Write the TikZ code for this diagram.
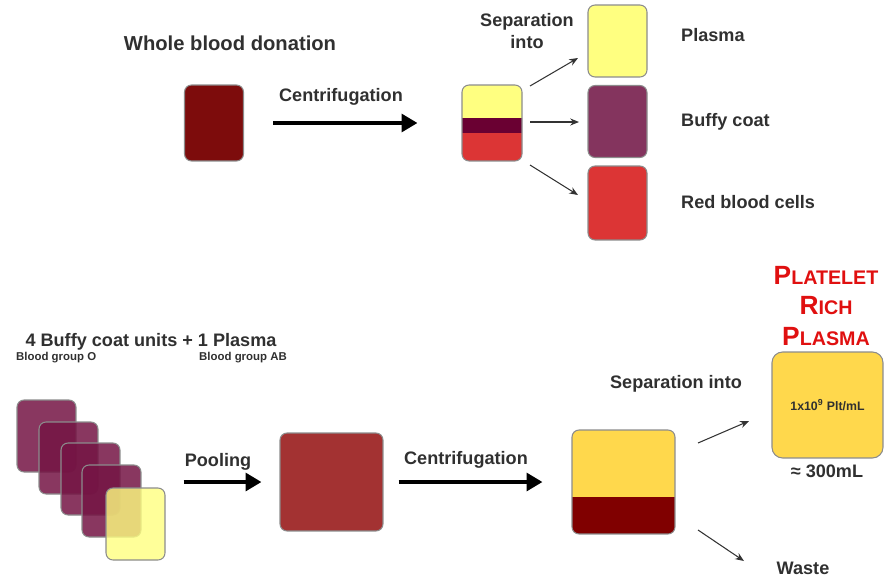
\documentclass[tikz,border=0pt]{standalone}
\usepackage{fontspec}
\setmainfont{Liberation Sans}
\usetikzlibrary{arrows.meta}

\definecolor{wholered}{HTML}{7D0C0C}
\definecolor{plasmayel}{HTML}{FFFF80}
\definecolor{buffypur}{HTML}{84345E}
\definecolor{bandpur}{HTML}{6A0032}
\definecolor{cellred}{HTML}{DC3535}
\definecolor{stackpur}{HTML}{741444}
\definecolor{poolred}{HTML}{A33232}
\definecolor{prpgold}{HTML}{FFD84C}
\definecolor{wastered}{HTML}{800000}
\definecolor{titlered}{HTML}{E01010}
\definecolor{txt}{HTML}{303030}

\tikzset{
  bag/.style={draw=black!45, line width=0.6pt, rounded corners=4pt, inner sep=0pt},
  unit/.style={bag, minimum width=1.18cm, minimum height=1.44cm},
  lbl/.style={font=\fontsize{10.3}{12.5}\selectfont\bfseries, text=txt},
  small/.style={font=\fontsize{6.5}{8}\selectfont\bfseries, text=txt},
  bigarrow/.style={line width=2.8pt, -{Triangle[length=9pt,width=10pt]}},
  thinarrow/.style={line width=0.6pt, black!80, -{Stealth[length=5pt,width=4pt]}}
}

\begin{document}
\begin{tikzpicture}[x=0.02cm, y=-0.02cm]
\useasboundingbox (0,0) rectangle (896,585);

% top row: whole blood donation
\node (title) at (230,43) [font=\fontsize{11.5}{13}\selectfont\bfseries, text=txt] {Whole blood donation};
\node (donation) at (214,123) [unit, minimum height=1.52cm, fill=wholered] {};
\node (centri) at (341,97) [lbl] {Centrifugation};
% layers drawn relative to the node centre
\node (tube) at (492,123) [bag, minimum width=1.2cm, minimum height=1.52cm,
  path picture={
    \fill[plasmayel] (-100,-100) rectangle (100,-5);
    \fill[bandpur] (-100,-5) rectangle (100,10);
    \fill[cellred] (-100,10) rectangle (100,100);}] {};
\draw [bigarrow, shorten <=0.58cm, shorten >=0.88cm] (donation.east) -- (tube.west);

\node (sep) at (527,31) [lbl, align=center] {Separation\\into};
\node (plasma) at (617.5,41) [unit, fill=plasmayel] {};
\node (buffy) at (617.5,121.5) [unit, fill=buffypur] {};
\node (cells) at (617.5,203) [unit, minimum height=1.48cm, fill=cellred] {};
\node (lplasma) at (675,35) [lbl, anchor=west] {Plasma};
\node (lbuffy) at (675,122) [lbl, anchor=west] {Buffy coat};
\node (lcells) at (675,202) [lbl, anchor=west] {Red blood cells};

\coordinate (o1) at (530,86);  \coordinate (e1) at (578,58);
\coordinate (o2) at (530,122); \coordinate (e2) at (579,122);
\coordinate (o3) at (530,165); \coordinate (e3) at (578,195);
\draw [thinarrow] (o1) -- (e1);
\draw [thinarrow] (o2) -- (e2);
\draw [thinarrow] (o3) -- (e3);

% bottom row: pooling
\node (pool) at (151,342) [lbl] {4 Buffy coat units + 1 Plasma};
\node (grpO) at (10,358) [small, anchor=west] {Blood group O};
\node (grpAB) at (243,358) [small] {Blood group AB};

\node (u1) at (46.5,436) [unit, fill=stackpur, fill opacity=0.85] {};
\node (u2) at (68.5,458) [unit, fill=stackpur, fill opacity=0.85] {};
\node (u3) at (90.5,479) [unit, fill=stackpur, fill opacity=0.85] {};
\node (u4) at (111.5,501) [unit, fill=stackpur, fill opacity=0.85] {};
\node (u5) at (135.5,524) [unit, fill=plasmayel, fill opacity=0.8] {};

\node (lpool) at (218,462) [lbl] {Pooling};
\node (pooled) at (331.5,482) [bag, minimum width=2.06cm, minimum height=1.96cm, fill=poolred] {};
\draw [bigarrow, shorten <=0.36cm, shorten >=0.36cm] (u5.east |- pooled.west) -- (pooled.west);

\node (centri2) at (466,460) [lbl] {Centrifugation};
\node (split) at (623.5,482) [bag, minimum width=2.06cm, minimum height=2.08cm,
  path picture={
    \fill[prpgold] (-100,-100) rectangle (100,15);
    \fill[wastered] (-100,15) rectangle (100,100);}] {};
\draw [bigarrow, shorten <=0.3cm, shorten >=0.58cm] (pooled.east) -- (split.west);

\node (sep2) at (676,384) [lbl] {Separation into};
\node (prptitle) at (826,306) [align=center, text=titlered,
  font=\fontsize{11.2}{17.5}\selectfont\bfseries]
  {{\fontsize{15}{17.5}\selectfont P}LATELET\\{\fontsize{15}{17.5}\selectfont R}ICH\\{\fontsize{15}{17.5}\selectfont P}LASMA};
\node (prp) at (827.5,405) [bag, rounded corners=6pt, minimum width=2.22cm, minimum height=2.12cm, fill=prpgold] {};
\node (conc) at (prp.center) [small, font=\fontsize{7}{8}\selectfont\bfseries] {1x10\textsuperscript{9} Plt/mL};
\node (vol) at (827,471) [lbl] {≈ 300mL};
\node (waste) at (803,568) [lbl] {Waste};

\coordinate (o4) at (698,443); \coordinate (e4) at (749,421);
\coordinate (o5) at (698,530); \coordinate (e5) at (744,561);
\draw [thinarrow] (o4) -- (e4);
\draw [thinarrow] (o5) -- (e5);
\end{tikzpicture}
\end{document}
